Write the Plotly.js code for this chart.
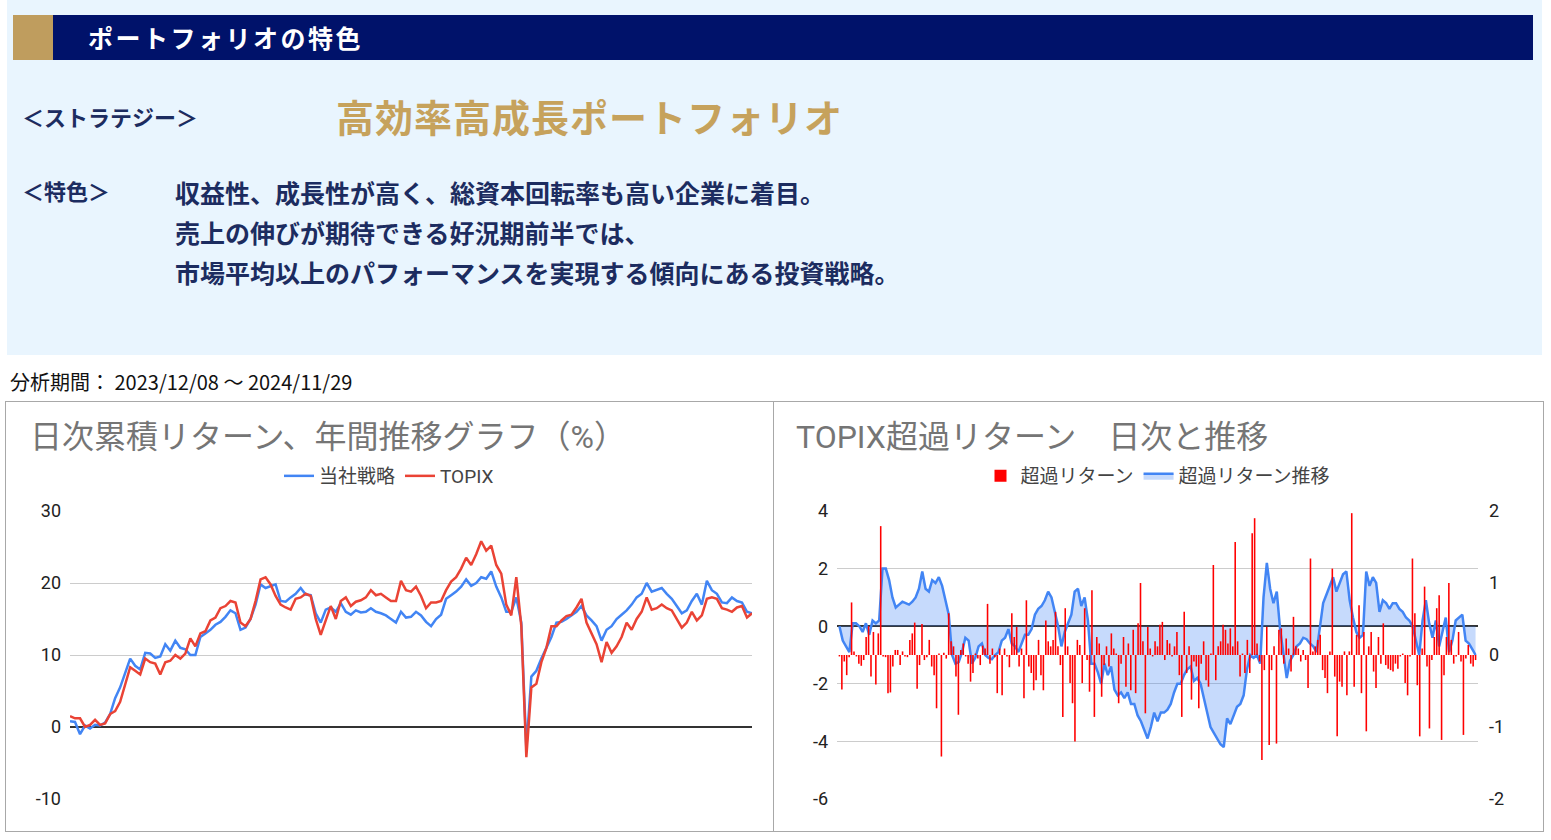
<!DOCTYPE html>
<html>
<head>
<meta charset="utf-8">
<script src="https://cdn.plot.ly/plotly-3.0.1.min.js"></script>
<style>
  html, body { margin:0; padding:0; }
  body { width:1551px; height:840px; overflow:hidden; background:#ffffff; position:relative;
         font-family:'Noto Sans CJK JP', 'Noto Sans', sans-serif; }
  .abs { position:absolute; white-space:nowrap; }
  #panel { left:7px; top:0; width:1535px; height:355px; background:#e9f5fe; }
  #bar { left:13px; top:15px; width:1520px; height:45px; background:#00126a; }
  #gold { left:13px; top:15px; width:40px; height:45px; background:#bf9d5e; }
  #htext { left:88px; top:15px; height:45px; line-height:45px; color:#fff; font-size:25px; font-weight:700; letter-spacing:2.5px; }
  .lbl { color:#1c2c60; font-size:22px; font-weight:700; line-height:30px; }
  .desc { color:#1c2c60; font-size:25px; font-weight:700; line-height:30px; left:175px; }
  #strat { left:336px; top:91px; line-height:50px; font-size:38px; font-weight:700; color:#c6a25c; letter-spacing:1px; }
  #period { left:10px; top:370px; line-height:24px; font-size:20px; color:#111; }
  .box { position:absolute; top:401px; height:431px; border:1px solid #a8a8a8; box-sizing:border-box; }
  .plot { position:absolute; top:402px; }
</style>
</head>
<body>
<div id="panel" class="abs"></div>
<div id="bar" class="abs"></div>
<div id="gold" class="abs"></div>
<div id="htext" class="abs">ポートフォリオの特色</div>
<div class="abs lbl" style="left:22px; top:101px;">＜ストラテジー＞</div>
<div id="strat" class="abs">高効率高成長ポートフォリオ</div>
<div class="abs lbl" style="left:22px; top:175px;">＜特色＞</div>
<div class="abs desc" style="top:177px;">収益性、成長性が高く、総資本回転率も高い企業に着目。</div>
<div class="abs desc" style="top:217px;">売上の伸びが期待できる好況期前半では、</div>
<div class="abs desc" style="top:257px;">市場平均以上のパフォーマンスを実現する傾向にある投資戦略。</div>
<div id="period" class="abs">分析期間： 2023/12/08 ～ 2024/11/29</div>

<div class="box" style="left:5px; width:769px;"></div>
<div class="box" style="left:773px; width:771px;"></div>
<div id="chart1" class="plot" style="left:6px; width:766px; height:428px;"></div>
<div id="chart2" class="plot" style="left:774px; width:768px; height:428px;"></div>

<script>
// ---- Chart 1: daily cumulative return (%) ----
const seriesNames1 = ['当社戦略', 'TOPIX'];
const strategyCum = [0.8,0.7,-1.0,0.2,-0.2,0.3,0.2,0.6,1.8,4.0,
5.5,7.5,9.5,8.5,8.0,10.3,10.2,9.6,9.8,11.5,
10.6,12.0,11.0,10.8,10.0,10.0,12.5,13.0,13.5,14.2,
14.6,15.3,16.2,15.8,13.5,13.8,15.0,17.0,19.8,19.3,
19.6,19.8,17.5,17.4,18.0,18.5,19.3,18.4,18.3,15.8,
14.5,16.3,16.6,16.0,17.2,16.0,15.6,16.2,15.9,16.0,
16.5,16.0,15.8,15.5,15.0,14.5,16.0,15.2,15.3,16.0,
15.5,14.6,14.0,15.0,15.6,17.8,18.3,18.8,19.5,20.5,
19.6,20.0,20.8,20.6,21.6,19.5,18.0,16.0,16.0,18.0,
14.5,-3.0,7.0,7.8,9.5,11.0,12.5,14.5,14.6,15.0,
15.5,16.0,16.8,15.5,14.8,14.0,12.0,13.5,14.0,15.0,
15.6,16.2,17.0,18.0,18.5,20.0,18.8,19.0,19.3,18.5,
17.8,16.8,15.8,16.2,17.5,18.5,17.0,20.3,19.0,18.5,
17.3,17.2,18.0,17.5,17.3,16.0,15.8];
const topixCum = [1.5,1.2,1.2,0.0,0.3,1.0,0.3,0.5,1.8,2.2,
3.5,6.0,8.3,7.8,7.3,9.5,9.0,8.8,7.3,9.0,
9.2,10.0,9.5,10.2,12.3,11.2,13.0,13.3,14.8,15.2,
16.5,16.8,17.5,17.3,14.5,14.0,15.0,17.5,20.5,20.8,
19.8,18.2,17.0,16.6,16.3,17.8,18.0,18.5,18.2,15.0,
12.8,14.8,16.8,15.0,17.5,18.0,16.8,17.4,17.6,18.0,
19.0,18.3,18.5,18.0,17.5,17.5,20.3,19.0,18.8,19.5,
18.2,16.5,17.3,17.3,17.5,19.0,20.2,20.8,22.0,23.5,
22.5,24.0,25.8,24.5,25.2,22.5,21.3,17.0,15.5,20.8,
14.0,-4.2,5.5,6.0,9.0,11.0,14.0,14.0,14.8,15.4,
15.6,16.6,17.8,14.5,13.0,11.5,9.0,11.8,10.3,11.2,
12.5,14.5,13.5,15.0,16.0,18.0,16.3,16.5,17.0,16.5,
16.2,15.0,13.8,14.5,16.0,14.8,15.5,17.8,18.0,17.8,
16.5,16.3,16.0,16.6,16.8,15.2,15.8];
const yTicks1 = [-10, 0, 10, 20, 30];
const yTickLabels1 = ['-10', '0', '10', '20', '30'];

// ---- Chart 2: excess return vs TOPIX ----
const seriesNames2 = ['超過リターン', '超過リターン推移'];
const dailyExcess = [-0.02,-0.48,-0.09,-0.28,-0.03,0.73,0.05,-0.02,-0.12,-0.15,
-0.07,0.25,0.4,-0.3,0.32,-0.41,0.3,1.79,-0.02,-0.03,
-0.53,-0.52,-0.16,0.07,0.07,-0.14,0.05,-0.02,-0.03,0.21,
0.3,0.45,-0.47,-0.14,0.43,-0.07,-0.03,0.21,-0.16,-0.28,
-0.74,0.02,-1.41,0.03,-0.05,0.58,0.19,0.12,-0.3,-0.83,
0.07,0.16,-0.02,-0.12,-0.37,-0.25,0.02,-0.05,-0.14,0.13,
0.09,0.71,-0.12,0.09,-0.03,-0.53,0.09,-0.56,0.09,-0.02,
-0.17,0.58,0.25,0.39,-0.16,0.09,-0.6,0.76,-0.16,-0.25,
-0.49,-0.35,0.21,-0.28,-0.49,0.48,0.19,0.12,0.21,0.6,
0.12,-0.14,-0.86,0.65,0.12,-0.39,-0.67,-1.2,0.21,0.14,
-0.39,0.65,-0.07,-0.51,0.9,-0.86,0.25,0.16,-0.58,-0.14,
0.12,-0.16,0.3,0.09,0.02,-0.67,-0.12,0.25,-0.44,0.16,
-0.49,0.35,-0.53,0.44,1.0,0.19,-0.81,0.39,
0.09,-0.02,0.19,0.12,0.42,0.46,-0.07,0.21,0.16,-0.02,
0.12,0.32,-0.28,-0.86,0.6,-0.25,0.12,-0.62,-0.09,-0.16,
-0.74,-0.12,0.19,-0.35,-0.44,0.02,1.25,-0.35,0.12,0.19,
0.42,0.35,0.16,0.37,0.12,1.57,0.19,-0.3,0.02,-0.25,
0.21,-0.25,1.69,1.9,0.16,-0.09,-1.46,-0.21,0.39,-1.25,
-0.21,0.12,-1.23,0.35,0.37,-0.12,0.23,0.09,-0.23,0.53,
0.12,0.09,-0.09,0.07,-0.07,-0.46,1.34,0.05,0.12,0.21,
0.28,-0.21,-0.32,-0.53,0.05,1.2,-0.3,-1.13,-0.37,-0.44,
0.05,-0.56,0.05,1.97,-0.44,0.28,0.69,-0.53,0.32,-1.06,
0.12,0.32,-0.23,-0.46,0.25,-0.12,0.44,-0.14,-0.19,-0.21,
-0.23,-0.12,-0.19,-0.02,0.02,-0.39,-0.56,-0.02,1.34,0.58,
-0.42,-1.13,0.09,0.95,-0.16,-1.02,-0.07,0.25,0.65,0.83,
-1.18,-0.28,0.25,1.0,0.21,-0.12,-0.02,0.32,-0.09,-1.11,
-0.05,0.14,-0.12,-0.16,-0.07];
const cumExcess = [0.0,-0.5,-0.7,-0.9,0.1,0.1,0.0,-0.2,0.1,-0.3,
0.2,0.1,0.2,2.0,2.0,1.6,1.0,0.65,0.75,0.85,
0.8,0.75,0.85,1.0,1.3,1.9,1.3,1.2,1.6,1.5,
1.7,1.4,0.9,0.4,-1.0,-1.3,-1.25,-0.9,-0.4,-0.5,
-1.3,-1.1,-0.7,-0.6,-1.0,-1.1,-1.15,-1.0,-0.9,-0.5,
-0.4,-0.1,-0.6,-0.7,-0.9,-0.6,-0.3,-0.3,-0.1,0.4,
0.6,0.7,0.9,1.2,1.0,0.5,0.0,-0.7,-0.2,0.1,
0.4,1.2,1.3,0.7,1.0,0.2,-1.3,-1.3,-1.6,-2.0,
-1.3,-1.7,-1.4,-2.2,-2.4,-2.3,-2.5,-2.3,-2.7,-2.7,
-3.1,-3.3,-3.6,-3.9,-3.5,-3.0,-3.3,-3.0,
-3.0,-2.9,-2.7,-2.3,-2.0,-2.0,-1.7,-1.5,-1.4,-1.9,
-1.8,-2.0,-2.5,-3.0,-3.5,-3.7,-3.9,-4.1,-4.2,-3.2,
-3.4,-3.1,-2.8,-2.7,-2.4,-1.5,-1.0,-1.1,-1.0,-1.3,
1.0,2.2,1.3,0.8,1.2,-0.1,-1.0,-1.8,-1.2,-1.0,
-0.7,-0.6,-0.4,-0.45,-0.6,-0.7,-0.9,0.0,0.8,1.1,
1.4,1.7,1.2,1.5,1.8,1.9,0.9,0.3,-0.2,-0.4,
-0.3,1.9,1.4,1.7,1.5,0.5,0.9,0.8,0.6,0.8,
0.8,0.6,0.5,0.3,0.2,0.0,-0.5,-1.0,0.2,0.9,
0.1,-0.4,0.2,-0.7,-0.2,0.3,-0.9,-0.5,0.2,0.3,
0.4,-0.5,-0.6,-0.8,-1.0];
const yTicksLeft2 = [-6, -4, -2, 0, 2, 4];
const yTickLabelsLeft2 = ['-6', '-4', '-2', '0', '2', '4'];
const yTicksRight2 = [-2, -1, 0, 1, 2];
const yTickLabelsRight2 = ['-2', '-1', '0', '1', '2'];

const FONT = "Roboto, 'Noto Sans CJK JP', sans-serif";
const cfg = {displayModeBar:false, staticPlot:true};

// chart 1
const x1 = strategyCum.map((_, i) => i);
Plotly.newPlot('chart1', [
  {type:'scatter', mode:'lines', x:x1, y:strategyCum, name:seriesNames1[0],
   line:{color:'#4285f4', width:2.5}},
  {type:'scatter', mode:'lines', x:x1, y:topixCum, name:seriesNames1[1],
   line:{color:'#ea4335', width:2.5}}
], {
  width:766, height:428,
  margin:{l:64, r:20, t:109, b:31},
  paper_bgcolor:'#ffffff', plot_bgcolor:'#ffffff',
  font:{family:FONT, color:'#444'},
  title:{text:'日次累積リターン、年間推移グラフ（%）', font:{family:FONT, size:32, color:'#757575'},
         xref:'container', x:24/766, xanchor:'left', yref:'container', y:1-35/428, yanchor:'middle'},
  showlegend:true,
  legend:{orientation:'h', xref:'container', x:0.5, xanchor:'center', yref:'container', y:1-74/428, yanchor:'middle',
          font:{family:FONT, size:19, color:'#444'}, itemwidth:30},
  xaxis:{range:[0, strategyCum.length-1], showgrid:false, zeroline:false, showticklabels:false, showline:false},
  yaxis:{range:[-10,30], tickvals:yTicks1, ticktext:yTickLabels1, gridcolor:'#cccccc', gridwidth:1, zeroline:true,
         zerolinecolor:'#333333', zerolinewidth:1.5, showline:false, tickfont:{family:FONT, size:18, color:'#222'},
         ticklabelstandoff:8}
}, cfg);

// chart 2
const nb = dailyExcess.length;
const xb = dailyExcess.map((_, i) => i);
const xl = cumExcess.map((_, j) => j * (nb - 1) / (cumExcess.length - 1));
Plotly.newPlot('chart2', [
  {type:'bar', x:xb, y:dailyExcess, yaxis:'y2', name:seriesNames2[0],
   marker:{color:'#ff0000', line:{width:0}}},
  {type:'scatter', mode:'lines', x:xl, y:cumExcess, name:seriesNames2[1], fill:'tozeroy',
   fillcolor:'rgba(66,133,244,0.3)', line:{color:'#4285f4', width:2.5}}
], {
  width:768, height:428,
  margin:{l:63, r:64, t:109, b:31},
  paper_bgcolor:'#ffffff', plot_bgcolor:'#ffffff',
  font:{family:FONT, color:'#444'},
  bargap:0.35,
  title:{text:'TOPIX超過リターン　日次と推移', font:{family:FONT, size:32, color:'#757575'},
         xref:'container', x:22/768, xanchor:'left', yref:'container', y:1-35/428, yanchor:'middle'},
  showlegend:true,
  legend:{orientation:'h', xref:'container', x:0.5, xanchor:'center', yref:'container', y:1-74/428, yanchor:'middle',
          font:{family:FONT, size:19, color:'#444'}, itemwidth:30},
  xaxis:{range:[-1, nb], showgrid:false, zeroline:false, showticklabels:false, showline:false},
  yaxis:{range:[-6,4], tickvals:yTicksLeft2, ticktext:yTickLabelsLeft2, gridcolor:'#cccccc', gridwidth:1, zeroline:true,
         zerolinecolor:'#333333', zerolinewidth:1.5, showline:false, tickfont:{family:FONT, size:18, color:'#222'},
         ticklabelstandoff:8},
  yaxis2:{range:[-2,2], tickvals:yTicksRight2, ticktext:yTickLabelsRight2, overlaying:'y', side:'right', showgrid:false,
          zeroline:false, showline:false, tickfont:{family:FONT, size:18, color:'#222'}, ticklabelstandoff:10}
}, cfg);
</script>
</body>
</html>
